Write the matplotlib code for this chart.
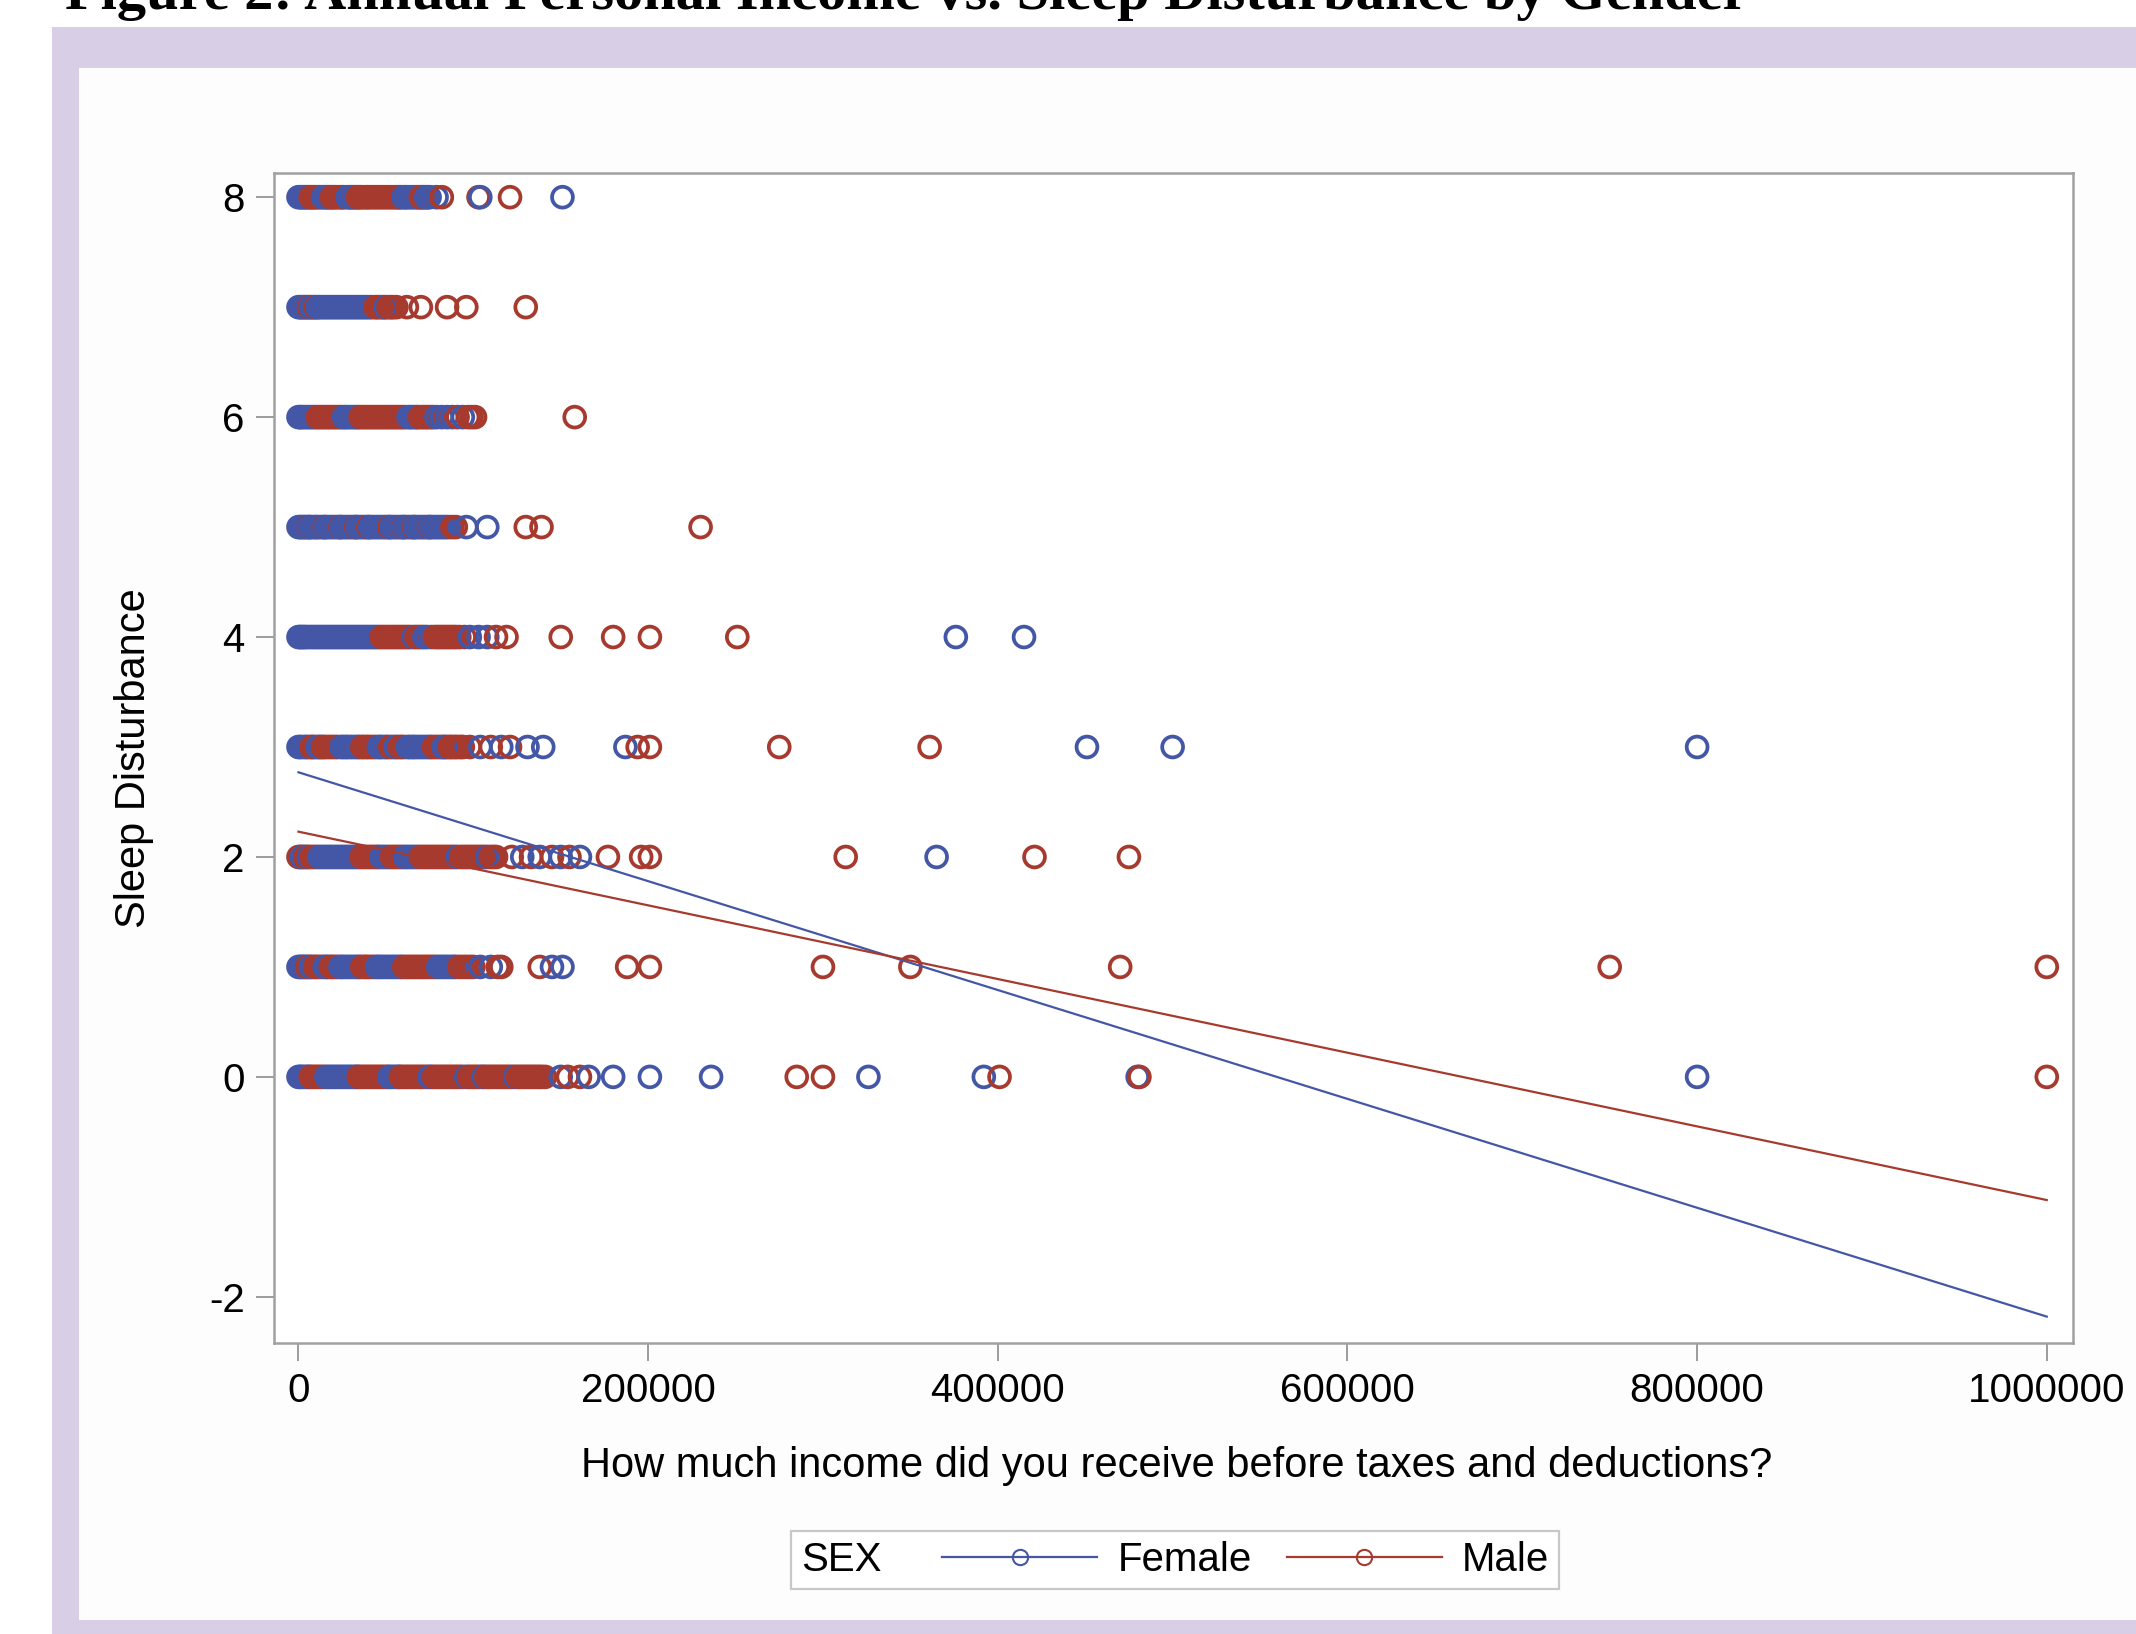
import numpy as np
import matplotlib.pyplot as plt
from matplotlib.lines import Line2D
from matplotlib.patches import Rectangle
from matplotlib.offsetbox import HPacker

plt.rcParams['font.family'] = ['Liberation Sans', 'DejaVu Sans']
plt.rcParams['axes.unicode_minus'] = False

# incomes per sleep-disturbance score
female_8 = [0, 1000, 2000, 3000, 4000, 5000, 6000, 14000, 15000, 16000, 17000, 18000, 28000, 29000, 30000, 31000, 32000, 33000,
            60000, 61000, 62000, 63500, 65000, 66500, 68000, 69000, 73000, 74000, 75000, 79000, 104000, 151000]
male_8 = [7000, 8000, 9000, 10000, 11500, 12500, 19000, 20000, 21000, 22500, 24000, 25000, 26000, 34000, 35000, 36000, 37500,
          39000, 40000, 41500, 43000, 44500, 46000, 47500, 49000, 50500, 52000, 53500, 55000, 56500, 57500, 58500, 70000, 71000,
          72000, 82000, 103000, 121000]

female_7 = [0, 1000, 2000, 3000, 4000, 5000, 7000, 8000, 9000, 11000, 12000, 13500, 15000, 16500, 18000, 19500, 21000, 22500,
            24000, 25500, 27000, 28500, 30000, 31500, 33000, 34500, 36000, 37500, 39000, 40500, 42000, 50000]
male_7 = [6000, 10000, 44000, 45000, 46500, 48000, 49000, 51500, 53000, 54000, 56000, 62000, 70000, 85000, 96000, 130000]

female_6 = [0, 1000, 2000, 3500, 5000, 6500, 8000, 9500, 26000, 27000, 28500, 30000, 31500, 33000, 34000, 63000, 64000, 65500,
            67000, 68000, 79000, 82000, 85000, 88000, 94000]
male_6 = [11000, 12500, 14000, 15500, 17000, 18500, 20000, 21500, 23000, 24500, 35500, 37000, 38500, 40000, 41500, 43000, 44500,
          46000, 47500, 49000, 50500, 52000, 53500, 55000, 56500, 58000, 59500, 61000, 69500, 71000, 72500, 74000, 75500, 77000,
          91000, 97000, 99000, 101000, 158000]

female_5 = [0, 1000, 2000, 3000, 4000, 5000, 6500, 7500, 9000, 10000, 11000, 12500, 14000, 15500, 17000, 18500, 20000, 21500,
            23000, 24500, 26000, 27500, 29000, 30500, 32000, 33500, 35000, 36500, 38000, 39500, 41000, 42500, 44000, 45500, 47000,
            48500, 50000, 51500, 53000, 54500, 56000, 57500, 59000, 60500, 62000, 63500, 65000, 66500, 68000, 69500, 71000, 72500,
            74000, 75500, 77000, 78500, 80000, 81500, 83000, 84500, 86000, 96000, 108000]
male_5 = [6000, 15000, 24000, 33000, 40000, 52000, 60000, 66000, 75000, 88000, 90000, 130000, 139000, 230000]

female_4 = [0, 1000, 2000, 3000, 4000, 5500, 7000, 8500, 10000, 11500, 13000, 14500, 16000, 17500, 19000, 20500, 22000, 23500,
            25000, 26500, 28000, 29500, 31000, 32500, 34000, 35500, 37000, 38500, 40000, 41500, 43000, 44500, 46000, 66000, 72000,
            73500, 76000, 98000, 103000, 108000, 376000, 415000]
male_4 = [47500, 49000, 50500, 52000, 53500, 55000, 56500, 58000, 59500, 61000, 62500, 64000, 67500, 69000, 70500, 78000, 79500,
          81000, 82500, 84000, 85500, 87000, 88500, 90000, 92000, 95000, 113000, 119000, 150000, 180000, 201000, 251000]

female_3 = [0, 1000, 2500, 4000, 5000, 6500, 11000, 12000, 13000, 24500, 25500, 27000, 28000, 29500, 31000, 32500, 34000, 35000,
            46000, 47000, 48500, 50000, 51000, 55500, 56500, 62500, 63500, 65000, 66000, 67500, 69000, 70500, 72000, 73500, 75000,
            76000, 83000, 84000, 85000, 104000, 116000, 131000, 140000, 187000, 451000, 500000, 800000]
male_3 = [7500, 8500, 9500, 14000, 15000, 16500, 18000, 19500, 21000, 22500, 36500, 37500, 39000, 40000, 41500, 43000, 44500,
          52500, 54000, 58000, 59000, 60500, 77500, 79000, 80500, 82000, 86500, 87500, 89000, 90000, 91500, 93000, 94000, 98000,
          110000, 121000, 194000, 201000, 275000, 361000]

female_2 = [2000, 3000, 6000, 12000, 13500, 15000, 16500, 18000, 19500, 21000, 22500, 24000, 25500, 27000, 28500, 30000, 31500,
            33000, 34500, 47500, 49000, 50500, 52000, 61000, 62500, 64000, 65500, 67000, 68500, 91000, 108000, 128000, 138000,
            150000, 161000, 365000]
male_2 = [0, 1000, 4000, 5000, 7500, 9000, 10500, 36000, 37500, 39000, 40500, 42000, 43500, 45000, 46000, 53500, 55000, 56500,
          58000, 59500, 70000, 71500, 73000, 74500, 76000, 77500, 79000, 80500, 82000, 83500, 85000, 86500, 88000, 89500, 93000,
          94500, 96000, 97500, 99000, 100500, 102000, 103500, 105000, 106500, 110000, 111500, 113000, 122000, 133000, 145000,
          155000, 177000, 196000, 201000, 313000, 421000, 475000]

female_1 = [0, 1000, 2000, 3000, 4000, 7000, 8000, 15000, 16000, 17000, 24000, 25000, 26500, 28000, 29500, 31000, 32500, 34000,
            35000, 45000, 46000, 47500, 49000, 50500, 52000, 53500, 55000, 56500, 58000, 59000, 80000, 81500, 83000, 84500, 86000,
            87500, 89000, 90000, 104000, 110000, 145000, 151000]
male_1 = [5000, 6000, 9500, 10500, 12000, 13500, 18500, 19500, 21000, 22500, 36500, 38000, 39000, 40500, 42000, 43500, 60500,
          62000, 63500, 65000, 66500, 68000, 69500, 71000, 72500, 74000, 75500, 77000, 78500, 92000, 94000, 96000, 98000, 100000,
          114000, 116000, 138000, 188000, 201000, 300000, 350000, 470000, 750000, 1000000]

female_0 = [0, 1000, 2000, 3500, 5000, 6000, 16000, 17500, 19000, 20500, 22000, 23500, 25000, 26500, 28000, 29500, 31000, 32500,
            33500, 52000, 53500, 55000, 56500, 57500, 75000, 76000, 96000, 106000, 124000, 150000, 166000, 180000, 201000, 236000,
            326000, 392000, 480000, 800000]
male_0 = [7000, 8500, 10000, 11500, 13000, 14500, 34500, 36000, 37500, 39000, 40500, 42000, 43500, 45000, 46500, 48000, 49500,
          51000, 58500, 60000, 61500, 63000, 64500, 66000, 67500, 69000, 70500, 72000, 73500, 77500, 79000, 80500, 82000, 83500,
          85000, 86500, 88000, 89500, 91000, 92500, 94000, 97500, 99000, 100500, 102000, 103500, 105000, 107500, 109000, 110500,
          112000, 113500, 115000, 116500, 118000, 119500, 121000, 122500, 125500, 127000, 128500, 130000, 131500, 133000, 134500,
          136000, 137500, 139000, 141000, 154000, 161000, 285000, 300000, 401000, 481000, 1000000]

levels = [8, 7, 6, 5, 4, 3, 2, 1, 0]
female_rows = [female_8, female_7, female_6, female_5, female_4, female_3, female_2, female_1, female_0]
male_rows = [male_8, male_7, male_6, male_5, male_4, male_3, male_2, male_1, male_0]

# regression lines (value at x = 0 and x = 1,000,000)
fit_x = [0, 1000000]
female_fit = [2.77, -2.18]
male_fit = [2.23, -1.12]

x_ticks = [0, 200000, 400000, 600000, 800000, 1000000]
y_ticks = [-2, 0, 2, 4, 6, 8]

blue = '#4457A6'
red = '#A63A2E'

W, H = 2136, 1634
fig = plt.figure(figsize=(W / 100, H / 100), dpi=100)

# purple frame + white panel
fig.add_artist(Rectangle((52 / W, 0), (W - 52) / W, (H - 27) / H, transform=fig.transFigure,
                         facecolor='#D8CFE7', edgecolor='none', zorder=-3))
fig.add_artist(Rectangle((79 / W, 14 / H), (W - 79) / W, (1620 - 68) / H, transform=fig.transFigure,
                         facecolor='#FDFDFD', edgecolor='none', zorder=-2))

fig.text(65 / W, 1 - 9 / H, 'Figure 2: Annual Personal Income vs. Sleep Disturbance by Gender',
         fontsize=42, fontweight='bold', family=['Liberation Serif', 'DejaVu Serif'],
         ha='left', va='baseline')

ax = fig.add_axes([274 / W, 291 / H, 1799 / W, 1170 / H])
ax.set_facecolor('white')

for level, f_inc, m_inc in zip(levels, female_rows, male_rows):
    inc = np.array(f_inc + m_inc, dtype=float)
    cols = np.array([blue] * len(f_inc) + [red] * len(m_inc))
    order = np.argsort(inc, kind='stable')
    ax.scatter(inc[order], np.full(len(inc), level), s=225, facecolors='none',
               edgecolors=cols[order], linewidths=2.7, zorder=2)

ax.plot(fit_x, female_fit, color=blue, lw=1.6, zorder=3)
ax.plot(fit_x, male_fit, color=red, lw=1.6, zorder=3)

ax.set_xlim(-14000, 1015000)
ax.set_ylim(-2.42, 8.22)
ax.set_xticks(x_ticks, labels=[str(v) for v in x_ticks])
ax.set_yticks(y_ticks, labels=[str(v) for v in y_ticks])
ax.tick_params(direction='out', length=13, width=1.2, color='#8C8C8C', labelsize=29, pad=8)
for sp in ax.spines.values():
    sp.set_color('#A0A0A0')
    sp.set_linewidth(1.8)

ax.set_xlabel('How much income did you receive before taxes and deductions?', fontsize=30)
ax.xaxis.set_label_coords(0.502, -0.088)
ax.set_ylabel('Sleep Disturbance', fontsize=30)
ax.yaxis.set_label_coords(-0.0667, 0.5)

handles = [
    Line2D([], [], color=blue, lw=1.6, marker='o', mfc='none', mec=blue, ms=11, mew=1.5, label='Female'),
    Line2D([], [], color=red, lw=1.6, marker='o', mfc='none', mec=red, ms=11, mew=1.5, label='Male'),
]
leg = fig.legend(handles=handles, title='SEX', ncol=2, loc='center', bbox_to_anchor=(0.5503, 0.0453),
                 fontsize=29, title_fontsize=29, handlelength=3.85, handletextpad=0.5,
                 columnspacing=0.87, borderpad=0.25, numpoints=1, frameon=True, fancybox=False,
                 edgecolor='#C8C8C8', framealpha=1, facecolor='white')
leg.get_frame().set_linewidth(1.6)
# put the legend title on the same row as the entries (SAS style)
fs = leg._fontsize
leg._legend_box = HPacker(pad=leg.borderpad * fs, sep=1.5 * fs, align='center',
                          children=[leg._legend_title_box, leg._legend_handle_box])
leg._legend_box.set_figure(fig)
leg._legend_box.axes = leg.axes
leg._legend_box.set_offset(leg._findoffset)

fig.savefig('out.png', dpi=100)
